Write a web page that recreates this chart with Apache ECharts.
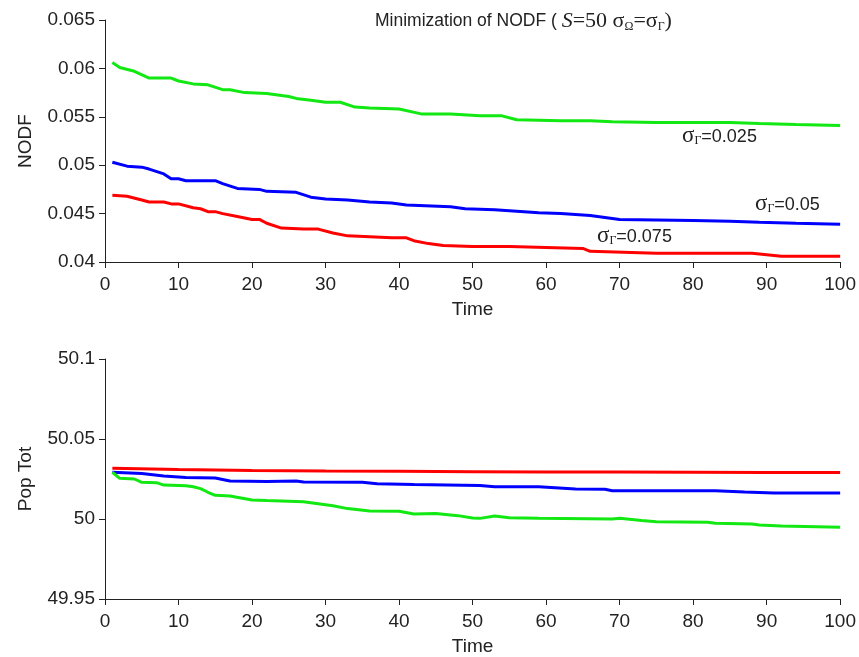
<!DOCTYPE html>
<html><head><meta charset="utf-8">
<script src="https://cdn.jsdelivr.net/npm/echarts@6/dist/echarts.min.js"></script>
<style>html,body{margin:0;padding:0;background:#fff}#c{width:859px;height:657px}</style>
</head><body><div id="c"></div>
<script>
// ---- data ----
const greenTopT = [1,2,4,6,9,10,12,14,16,17,19,22,25,26,28,30,32,34,36,40,43,47,51,54,56,62,66,69,75,85,89,94,100];
const greenTopV = [0.0606,0.0601,0.0597,0.0590,0.0590,0.0587,0.0584,0.0583,0.0578,0.0578,0.0575,0.0574,0.0571,0.0569,0.0567,0.0565,0.0565,0.0560,0.0559,0.0558,0.0553,0.0553,0.0551,0.0551,0.0547,0.0546,0.0546,0.0545,0.0544,0.0544,0.0543,0.0542,0.0541];
const blueTopT = [1,3,5,6,8,9,10,11,15,16,18,21,22,26,28,30,33,36,39,41,47,49,53,59,62,66,70,80,85,89,94,100];
const blueTopV = [0.0503,0.0499,0.0498,0.0496,0.0491,0.0486,0.0486,0.0484,0.0484,0.0481,0.0476,0.0475,0.0473,0.0472,0.0467,0.0465,0.0464,0.0462,0.0461,0.0459,0.0457,0.0455,0.0454,0.0451,0.0450,0.0448,0.0444,0.0443,0.0442,0.0441,0.0440,0.0439];
const redTopT = [1,3,5,6,8,9,10,12,13,14,15,16,18,20,21,22,24,27,29,31,33,36,39,41,42,44,46,50,55,65,66,75,85,88,92,100];
const redTopV = [0.0469,0.0468,0.0464,0.0462,0.0462,0.0460,0.0460,0.0456,0.0455,0.0452,0.0452,0.0450,0.0447,0.0444,0.0444,0.0440,0.0435,0.0434,0.0434,0.0430,0.0427,0.0426,0.0425,0.0425,0.0422,0.0419,0.0417,0.0416,0.0416,0.0414,0.0411,0.0409,0.0409,0.0409,0.0406,0.0406];

const redBotT = [1,10,20,30,40,50,60,70,80,90,100];
const redBotV = [50.0317,50.0310,50.0303,50.0300,50.0298,50.0296,50.0294,50.0293,50.0292,50.0291,50.0290];
const blueBotT = [1,5,8,11,15,17,22,26,27,35,37,42,51,53,59,64,68,69,83,87,91,100];
const blueBotV = [50.0292,50.0285,50.0269,50.0260,50.0256,50.0237,50.0235,50.0237,50.0231,50.0229,50.0221,50.0215,50.0210,50.0202,50.0202,50.0188,50.0186,50.0177,50.0177,50.0169,50.0163,50.0163];
const greenBotT = [1,2,4,5,7,8,11,12,13,14,15,17,20,22,27,29,31,33,36,40,42,45,48,50,51,53,55,59,69,70,73,75,82,83,88,89,92,100];
const greenBotV = [50.0292,50.0254,50.0250,50.0229,50.0227,50.0212,50.0208,50.0202,50.0190,50.0167,50.0148,50.0144,50.0119,50.0115,50.0108,50.0096,50.0083,50.0065,50.0050,50.0048,50.0031,50.0035,50.0021,50.0006,50.0004,50.0019,50.0008,50.0004,50.0000,50.0004,49.9990,49.9983,49.9979,49.9973,49.9969,49.9963,49.9956,49.9948];

const xLabel = 'Time';
const yLabelTop = 'NODF';
const yLabelBot = 'Pop Tot';
const annLabels = ['0.025','0.05','0.075'];

// ---- chart ----
const pairs = (t, v) => t.map((x, i) => [x, v[i]]);
const GREEN = '#12e812', BLUE = '#0000ff', RED = '#ff0000';
const FONT = 'Liberation Sans, Arial, sans-serif';
const SERIF = 'Liberation Serif, Times New Roman, serif';
const INK = '#222';

const axisCommon = {
  axisLine: {show: true, lineStyle: {color: INK, width: 1}},
  axisTick: {show: true, inside: false, length: 6, lineStyle: {color: INK}},
  axisLabel: {color: INK, fontFamily: FONT, fontSize: 19},
  splitLine: {show: false},
  nameTextStyle: {color: INK, fontFamily: FONT, fontSize: 19}
};

function xAxis(gi) {
  return Object.assign({}, axisCommon, {
    type: 'value', gridIndex: gi, min: 0, max: 100, interval: 10,
    name: xLabel, nameLocation: 'middle', nameGap: 38,
    axisLabel: Object.assign({}, axisCommon.axisLabel, {margin: 13})
  });
}
function yAxis(gi, min, max, interval, name, gap) {
  return Object.assign({}, axisCommon, {
    type: 'value', gridIndex: gi, min, max, interval,
    name, nameLocation: 'middle', nameGap: gap,
    axisLabel: Object.assign({}, axisCommon.axisLabel, {margin: 10})
  });
}

const sigRich = {
  s: {fontFamily: SERIF, fontSize: 23, fontWeight: 'normal', color: INK},
  g: {fontFamily: SERIF, fontSize: 12, fontWeight: 'normal', color: INK, padding: [11, 0, 0, 0]},
  t: {fontFamily: FONT, fontSize: 18, fontWeight: 'normal', color: INK, padding: [3, 0, 0, 0]}
};
function ann(txt, left, top) {
  return {text: '{s|σ}{g|Γ}{t|=' + txt + '}', left, top, textStyle: {fontWeight: 'normal', rich: sigRich}};
}

const option = {
  animation: false,
  backgroundColor: '#fff',
  title: [
    {
      text: '{a|Minimization of NODF ( }{i|S}{b|=50 σ}{sub|Ω}{b|=σ}{sub|Γ}{b|)}',
      left: 370, top: 5,
      textStyle: {fontWeight: 'normal', rich: {
        a: {fontFamily: FONT, fontSize: 17.5, fontWeight: 'normal', color: INK},
        i: {fontFamily: SERIF, fontSize: 22, fontStyle: 'italic', fontWeight: 'normal', color: INK},
        b: {fontFamily: SERIF, fontSize: 22, fontWeight: 'normal', color: INK},
        sub: {fontFamily: SERIF, fontSize: 12, fontWeight: 'normal', color: INK, padding: [11, 0, 0, 0]}
      }}
    },
    ann(annLabels[0], 677, 119),
    ann(annLabels[1], 750, 187),
    ann(annLabels[2], 592, 219)
  ],
  grid: [
    {left: 105, right: 18, top: 20, height: 242},
    {left: 105, right: 18, top: 359, height: 240}
  ],
  xAxis: [xAxis(0), xAxis(1)],
  yAxis: [
    yAxis(0, 0.04, 0.065, 0.005, yLabelTop, 70),
    yAxis(1, 49.95, 50.1, 0.05, yLabelBot, 70)
  ],
  series: [
    {type: 'line', xAxisIndex: 0, yAxisIndex: 0, data: pairs(greenTopT, greenTopV), color: GREEN},
    {type: 'line', xAxisIndex: 0, yAxisIndex: 0, data: pairs(blueTopT, blueTopV), color: BLUE},
    {type: 'line', xAxisIndex: 0, yAxisIndex: 0, data: pairs(redTopT, redTopV), color: RED},
    {type: 'line', xAxisIndex: 1, yAxisIndex: 1, data: pairs(redBotT, redBotV), color: RED},
    {type: 'line', xAxisIndex: 1, yAxisIndex: 1, data: pairs(blueBotT, blueBotV), color: BLUE},
    {type: 'line', xAxisIndex: 1, yAxisIndex: 1, data: pairs(greenBotT, greenBotV), color: GREEN}
  ].map(s => Object.assign(s, {showSymbol: false, symbol: 'none', lineStyle: {width: 3, color: s.color}}))
};
const chart = echarts.init(document.getElementById('c'), null, {renderer: 'canvas'});
chart.setOption(option);
</script>
</body></html>
